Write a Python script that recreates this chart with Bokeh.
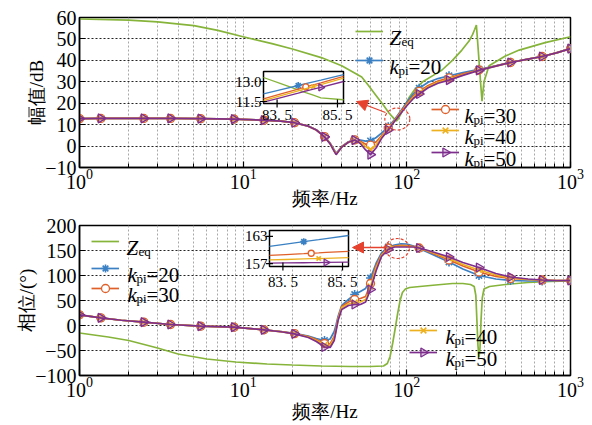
import math
from bokeh.plotting import figure
from bokeh.layouts import column
from bokeh.models import (FixedTicker, CustomJSTickFormatter, Range1d, LinearScale,
                          Legend, LegendItem, Arrow, NormalHead)
from bokeh.core.properties import value
from bokeh.embed import file_html
from bokeh.resources import INLINE

# ---------------- data ----------------
x_major_ticks = [1, 10, 100, 1000]
x_minor_ticks = [2, 3, 4, 5, 6, 7, 8, 9, 20, 30, 40, 50, 60, 70, 80, 90,
                 200, 300, 400, 500, 600, 700, 800, 900]
mag_ticks = [-10, 0, 10, 20, 30, 40, 50, 60]
phase_ticks = [-100, -50, 0, 50, 100, 150, 200]

freq_zeq_mag = [1, 2, 3, 5, 7, 10, 15, 20, 30, 40, 53, 58, 65, 72, 78, 82, 84, 86, 88, 92,
                97, 103, 112, 125, 145, 164, 190, 217, 240, 252, 260, 266, 270, 276, 282,
                288, 296, 318, 400, 486, 700, 1000]
zeq_mag = [59.3, 58.8, 58.0, 56.2, 54.0, 51.0, 47.8, 45.3, 41.3, 37.5, 32.2, 28.5, 23.5, 19.0,
           15.3, 13.5, 12.6, 11.7, 12.4, 15.0, 18.8, 22.5, 26.5, 30.0, 33.0, 35.5, 40.0, 44.8,
           49.0, 52.0, 54.5, 56.5, 50.0, 40.0, 30.0, 21.0, 30.0, 37.5, 42.0, 44.8, 48.3, 51.0]

freq_zeq_phase = [1, 1.5, 2, 3, 4, 6, 9, 14, 20, 30, 45, 60, 72, 76, 79, 82, 85, 88, 91, 94,
                  98, 104, 120, 150, 190, 220, 245, 258, 264, 268, 272, 276, 280, 284, 289,
                  296, 320, 400, 550, 750, 1000]
zeq_phase = [-15, -23, -30, -45, -57, -67, -73, -77, -79, -81, -82, -82, -81, -76, -62, -35,
             -5, 25, 50, 66, 73, 76, 78, 81, 84, 84, 82, 78, 60, 10, -40, -64, -45, 10, 55,
             73, 78, 82, 86, 88, 89]

freq_k = [1, 1.35, 1.8, 2.47, 3.6, 5.5, 8.8, 13.4, 17, 20.6, 25, 28, 31.4, 34, 36, 37, 38, 40,
          44, 48, 52, 56, 60, 65, 70, 77, 84, 92, 100, 110, 119, 135, 155, 181, 220, 276, 350,
          430, 550, 671, 820, 1000]
mag_k20 = [12.8, 12.9, 12.9, 12.9, 12.9, 12.8, 12.6, 12.1, 11.6, 10.9, 9.3, 7.6, 4.5, 1.4, -1.8,
           -3.3, -2.4, -0.2, 2.0, 3.0, 2.8, 2.3, 2.4, 4.0, 6.0, 9.0, 12.3, 16.5, 20.5, 24.5, 27.0,
           29.8, 31.5, 32.8, 34.3, 35.8, 37.5, 39.1, 40.6, 41.8, 43.5, 45.5]
mag_k30 = [12.8, 12.9, 12.9, 12.9, 12.9, 12.8, 12.6, 12.1, 11.6, 10.9, 9.3, 7.5, 4.4, 1.2, -2.1,
           -3.6, -2.6, -0.3, 1.9, 2.9, 2.2, 0.9, 0.4, 2.0, 4.8, 8.3, 11.9, 16.0, 19.8, 23.5, 25.5,
           28.3, 30.3, 31.8, 33.7, 35.5, 37.4, 39.0, 40.6, 41.8, 43.5, 45.5]
mag_k40 = [12.8, 12.9, 12.9, 12.9, 12.9, 12.8, 12.6, 12.1, 11.6, 10.9, 9.3, 7.5, 4.3, 1.1, -2.3,
           -3.8, -2.7, -0.4, 1.8, 2.8, 1.7, -0.3, -1.6, 0.6, 4.2, 7.9, 11.7, 15.7, 19.3, 22.9,
           24.9, 27.7, 29.8, 31.3, 33.3, 35.4, 37.3, 39.0, 40.6, 41.8, 43.5, 45.5]
mag_k50 = [12.8, 12.9, 12.9, 12.9, 12.9, 12.8, 12.6, 12.1, 11.6, 10.9, 9.3, 7.5, 4.3, 1.0, -2.5,
           -4.0, -2.8, -0.5, 1.8, 2.8, 1.2, -1.8, -4.0, -0.8, 3.5, 7.5, 11.5, 15.3, 18.8, 22.3,
           24.3, 27.2, 29.3, 30.8, 33.0, 35.3, 37.3, 39.0, 40.6, 41.8, 43.5, 45.5]

phase_k20 = [21.4, 15.3, 10.5, 6.7, 2.0, -1.3, -3.3, -8.5, -12.0, -15.8, -21, -26, -30, -27, -12,
             2, 18, 40, 52, 62, 68, 74, 95, 125, 145, 157, 161, 163.5, 163, 159, 154, 146, 137,
             127, 113, 100, 93, 90, 89, 89, 89.5, 90]
phase_k30 = [21.4, 15.3, 10.5, 6.7, 2.0, -1.3, -3.3, -8.6, -12.3, -16.3, -22, -28, -36, -37, -22,
             -5, 14, 38, 47, 52, 54, 58, 84, 120, 142, 155, 159, 160.5, 160, 158, 155, 148, 140,
             131, 119, 107, 98, 94, 92, 91, 90, 90]
phase_k40 = [21.4, 15.3, 10.5, 6.7, 2.0, -1.3, -3.3, -8.7, -12.5, -16.5, -23, -30, -39, -40, -26,
             -8, 12, 36, 43, 46, 47, 52, 78, 116, 140, 154, 158, 158.5, 158.5, 157.5, 155, 149,
             142, 134, 122, 111, 101, 95, 92, 91, 90, 90]
phase_k50 = [21.4, 15.3, 10.5, 6.7, 2.0, -1.3, -3.3, -8.7, -12.5, -16.7, -24, -32, -43, -44, -30,
             -10, 10, 32, 40, 42, 42, 47, 72, 110, 138, 152, 157, 157, 157, 157, 155, 150, 144,
             137, 126, 116, 104, 97, 93, 91, 90, 90]

marker_freqs = [1, 1.35, 2.47, 3.6, 5.5, 8.8, 13.4, 20.6, 31.4, 48, 60, 77, 119, 181, 276,
                430, 671, 1000]

# inset (zoom near 84 Hz)
inset_f = [83.05, 83.6, 84.2, 84.45, 84.7, 84.95, 85.7]
inset_mag_zeq = [13.3, 12.86, 12.38, 12.17, 11.97, 11.77, 11.63]
inset_mag_k20 = [12.07, 12.37, 12.70, 12.84, 12.98, 13.11, 13.52]
inset_mag_k30 = [11.70, 12.05, 12.43, 12.59, 12.75, 12.90, 13.38]
inset_mag_k40 = [11.57, 11.92, 12.30, 12.46, 12.62, 12.77, 13.25]
inset_mag_k50 = [11.45, 11.77, 12.12, 12.27, 12.42, 12.56, 13.00]
inset_ph_k20 = [160.80, 161.30, 161.84, 162.07, 162.29, 162.52, 163.20]
inset_ph_k30 = [158.80, 158.99, 159.19, 159.28, 159.36, 159.45, 159.70]
inset_ph_k40 = [157.80, 157.90, 158.02, 158.07, 158.11, 158.16, 158.30]
inset_ph_k50 = [157.10, 157.14, 157.18, 157.20, 157.22, 157.24, 157.30]
inset_marker_idx = {"k20": 2, "k30": 3, "k40": 4, "k50": 5}
inset_x_ticks = [83.5, 85.5]
inset_x_labels = ["83. 5", "85. 5"]
inset_mag_ticks = [11.5, 13.0]
inset_mag_labels = ["11.5", "13.0"]
inset_ph_ticks = [157, 163]
inset_ph_labels = ["157", "163"]
inset_xlim = (83.05, 85.7)
inset_mag_ylim = (11.35, 13.75)
inset_ph_ylim = (156.35, 164.3)

focus_f = 87.5
focus_mag = 12.6
focus_phase = 154

# ---------------- layout / style ----------------
FONT = "Liberation Serif"
FL, FR = 79, 22          # left / right borders
FW, FH = 491, 150        # frame size
TOP1, BOT1 = 17, 46
TOP2, BOT2 = 12, 50
COL = {"zeq": "#86b43a", "k20": "#3a80c3", "k30": "#e0602a", "k40": "#edb120", "k50": "#7e2f8e"}
RED = "#e5432f"
MARK = {"k20": dict(marker="asterisk", size=9, line_width=1.6),
        "k30": dict(marker="circle", size=8, line_width=1.3, fill_color="white"),
        "k40": dict(marker="x", size=8, line_width=1.6),
        "k50": dict(marker="triangle", size=9, angle=-math.pi / 2, line_width=1.3,
                    fill_alpha=0.25)}


def make_fig(top_b, bot_b, ylo, yhi, yticks, ylabel, xlabel_standoff):
    p = figure(width=FL + FW + FR, height=top_b + FH + bot_b, x_axis_type="log",
               x_range=Range1d(1, 1000), y_range=Range1d(ylo, yhi),
               output_backend="svg", toolbar_location=None,
               min_border_left=FL, min_border_right=FR,
               min_border_top=top_b, min_border_bottom=bot_b)
    p.background_fill_color = "white"
    p.border_fill_color = "white"
    p.outline_line_color = "black"
    p.outline_line_width = 1.5
    p.xaxis.ticker = FixedTicker(ticks=x_major_ticks, minor_ticks=x_minor_ticks)
    p.yaxis.ticker = FixedTicker(ticks=yticks)
    p.yaxis.formatter = CustomJSTickFormatter(
        code="return (tick < 0 ? '\u2212' : '') + Math.abs(tick).toString();")
    for ax in (p.xaxis[0], p.yaxis[0]):
        ax.axis_line_color = "black"
        ax.axis_line_width = 1.5
        ax.major_tick_line_color = "black"
        ax.major_tick_line_width = 1.2
        ax.major_tick_in = 6
        ax.major_tick_out = 0
        ax.minor_tick_in = 4
        ax.minor_tick_out = 0
        ax.major_label_text_font = FONT
        ax.major_label_text_font_size = "20px"
        ax.major_label_text_color = "black"
        ax.axis_label_text_font = FONT
        ax.axis_label_text_font_style = "normal"
        ax.axis_label_text_font_size = "19px"
        ax.axis_label_text_color = "black"
    p.yaxis.minor_tick_line_color = None
    p.xaxis.minor_tick_line_color = "black"
    p.xaxis.major_label_standoff = 1
    p.yaxis.major_label_standoff = 3
    p.xaxis.axis_label = "频率/Hz"
    p.xaxis.axis_label_standoff = xlabel_standoff
    p.yaxis.axis_label = ylabel
    p.yaxis.axis_label_standoff = -5
    p.xgrid.grid_line_color = "#a8a8a8"
    p.xgrid.grid_line_dash = "2 2"
    p.xgrid.minor_grid_line_color = "#a8a8a8"
    p.xgrid.minor_grid_line_dash = "2 2"
    p.ygrid.grid_line_color = "#222222"
    p.ygrid.grid_line_dash = "2 2"
    p.ygrid.grid_line_width = 1
    return p


def setup_extra(p, frame_top, box, ylim):
    bx0, by0, bx1, by1 = box
    kx = (bx1 - bx0) / (inset_xlim[1] - inset_xlim[0])
    ky = (by1 - by0) / (ylim[1] - ylim[0])
    xs = inset_xlim[0] - (bx0 - FL) / kx
    yt = ylim[1] + (by0 - frame_top) / ky
    p.extra_x_ranges = {"px": Range1d(0, FW), "ix": Range1d(xs, xs + FW / kx)}
    p.extra_y_ranges = {"px": Range1d(FH, 0), "iy": Range1d(yt - FH / ky, yt)}
    p.extra_x_scales = {"px": LinearScale(), "ix": LinearScale()}
    p.extra_y_scales = {"px": LinearScale(), "iy": LinearScale()}


def plot_series(p, yvals):
    rends = {}
    rends["zeq"] = [p.line(yvals["zeq"][0], yvals["zeq"][1], line_color=COL["zeq"], line_width=1.7)]
    for key in ("k20", "k30", "k40", "k50"):
        xs, ys = freq_k, yvals[key]
        ln = p.line(xs, ys, line_color=COL[key], line_width=1.7)
        mx = [f for f in xs if f in marker_freqs]
        my = [y for f, y in zip(xs, ys) if f in marker_freqs]
        kw = dict(MARK[key])
        kw.setdefault("fill_color", COL[key])
        sc = p.scatter(mx, my, line_color=COL[key], **kw)
        rends[key] = [ln, sc]
    return rends


def add_inset(p, ysets, yticks, ylabels, ylim, label_gap):
    p.quad(left=[inset_xlim[0]], right=[inset_xlim[1]], bottom=[ylim[0]], top=[ylim[1]],
           fill_color="white", line_color="black", line_width=1.5,
           x_range_name="ix", y_range_name="iy")
    for key, ys in ysets:
        p.line(inset_f, ys, line_color=COL[key], line_width=1.3, x_range_name="ix", y_range_name="iy")
        if key in inset_marker_idx:
            i = inset_marker_idx[key]
            kw = dict(MARK[key])
            kw["size"] = kw["size"] - 2
            kw.setdefault("fill_color", COL[key])
            p.scatter([inset_f[i]], [ys[i]], line_color=COL[key],
                      x_range_name="ix", y_range_name="iy", **kw)
    p.scatter([inset_xlim[0]] * len(yticks), yticks, marker="dash", size=7, line_color="black",
              line_width=1.2, x_range_name="ix", y_range_name="iy")
    p.scatter(inset_x_ticks, [ylim[0]] * len(inset_x_ticks), marker="dash", angle=math.pi / 2,
              size=8, line_color="black", line_width=1.2, x_range_name="ix", y_range_name="iy")
    p.text([inset_xlim[0]] * len(yticks), yticks, text=ylabels, text_align="right",
           text_baseline="middle", x_offset=-2, text_font=value(FONT), text_font_size="15px",
           text_color="black", x_range_name="ix", y_range_name="iy")
    p.text(inset_x_ticks, [ylim[0]] * len(inset_x_ticks), text=inset_x_labels,
           text_align="center", text_baseline="top", y_offset=label_gap,
           text_font=value(FONT), text_font_size="15px", text_color="black",
           x_range_name="ix", y_range_name="iy")


def add_legend_entry(p, renderers, key, sample_left, line_y, frame_bottom, text_x, frame_top,
                     num=""):
    items = renderers if key != "k50" else renderers[:1]
    leg = Legend(items=[LegendItem(label=value(" "), renderers=items)],
                 location=(sample_left - FL, frame_bottom - line_y - 10),
                 padding=0, margin=0, spacing=0, glyph_width=28, glyph_height=20,
                 label_standoff=0, label_width=0, label_height=0,
                 label_text_font_size="2px", border_line_color=None,
                 background_fill_alpha=0, inactive_fill_alpha=0)
    p.add_layout(leg)
    x = text_x - FL
    y = line_y - frame_top
    if key == "k50":
        kw = dict(MARK[key])
        kw["size"] = 9
        kw.setdefault("fill_color", COL[key])
        p.scatter([sample_left - FL + 14], [y], line_color=COL[key],
                  x_range_name="px", y_range_name="px", **kw)
    common = dict(x_range_name="px", y_range_name="px", text_baseline="alphabetic",
                  text_align="left", text_color="black", text_font=value(FONT))
    if key == "zeq":
        p.text([x], [y + 6], text=["Z"], text_font_style="italic", text_font_size="21px", **common)
        p.text([x + 12], [y + 10], text=["eq"], text_font_size="13px", **common)
    else:
        p.text([x], [y + 6], text=["k"], text_font_style="italic", text_font_size="21px", **common)
        p.text([x + 9], [y + 10], text=["pi"], text_font_size="13px", **common)
        p.text([x + 19], [y + 6], text=["=" + num], text_font_size="21px", **common)


def add_focus(p, fy, w, h, arrow_start, arrow_end, frame_top):
    p.ellipse([focus_f], [fy], width=w, height=h, width_units="screen", height_units="screen",
              fill_color=None, line_color=RED, line_dash="3 2", line_width=1.2)
    arr = Arrow(end=NormalHead(size=11, fill_color=RED, line_color=RED),
                x_start=arrow_start[0] - FL, y_start=arrow_start[1] - frame_top,
                x_end=arrow_end[0] - FL, y_end=arrow_end[1] - frame_top,
                line_color=RED, line_width=1.3, x_range_name="px", y_range_name="px")
    p.add_layout(arr)


# ---------------- top: magnitude ----------------
top = make_fig(TOP1, BOT1, -10, 60, mag_ticks, "幅值/dB", -4)
setup_extra(top, TOP1, (263, 71, 343, 103), inset_mag_ylim)
r1 = plot_series(top, {"zeq": (freq_zeq_mag, zeq_mag), "k20": mag_k20, "k30": mag_k30,
                       "k40": mag_k40, "k50": mag_k50})
add_inset(top, [("zeq", inset_mag_zeq), ("k20", inset_mag_k20), ("k30", inset_mag_k30),
                ("k40", inset_mag_k40), ("k50", inset_mag_k50)],
          inset_mag_ticks, inset_mag_labels, inset_mag_ylim, 3)
add_focus(top, focus_mag, 25, 22, (385, 112), (356, 101), TOP1)
fb1 = TOP1 + FH
add_legend_entry(top, r1["zeq"], "zeq", 355, 31, fb1, 389, TOP1)
add_legend_entry(top, r1["k20"], "k20", 355, 60, fb1, 389, TOP1, "20")
add_legend_entry(top, r1["k30"], "k30", 431, 109, fb1, 464, TOP1, "30")
add_legend_entry(top, r1["k40"], "k40", 431, 130, fb1, 464, TOP1, "40")
add_legend_entry(top, r1["k50"], "k50", 431, 152, fb1, 464, TOP1, "50")

# ---------------- bottom: phase ----------------
PAGE_TOP2 = TOP1 + FH + BOT1 + TOP2
bot = make_fig(TOP2, BOT2, -100, 200, phase_ticks, "相位/(°)", 1)
setup_extra(bot, PAGE_TOP2, (269, 230, 348, 266), inset_ph_ylim)
r2 = plot_series(bot, {"zeq": (freq_zeq_phase, zeq_phase), "k20": phase_k20, "k30": phase_k30,
                       "k40": phase_k40, "k50": phase_k50})
add_inset(bot, [("k20", inset_ph_k20), ("k30", inset_ph_k30), ("k40", inset_ph_k40),
                ("k50", inset_ph_k50)],
          inset_ph_ticks, inset_ph_labels, inset_ph_ylim, 7)
add_focus(bot, focus_phase, 24, 20, (386, 247), (352, 247), PAGE_TOP2)
fb2 = PAGE_TOP2 + FH
add_legend_entry(bot, r2["zeq"], "zeq", 91, 241, fb2, 126, PAGE_TOP2)
add_legend_entry(bot, r2["k20"], "k20", 91, 268, fb2, 127, PAGE_TOP2, "20")
add_legend_entry(bot, r2["k30"], "k30", 91, 288, fb2, 127, PAGE_TOP2, "30")
add_legend_entry(bot, r2["k40"], "k40", 409, 330, fb2, 445, PAGE_TOP2, "40")
add_legend_entry(bot, r2["k50"], "k50", 409, 352, fb2, 445, PAGE_TOP2, "50")

layout = column(top, bot, spacing=0)
open("out.html", "w").write(file_html(layout, INLINE))
